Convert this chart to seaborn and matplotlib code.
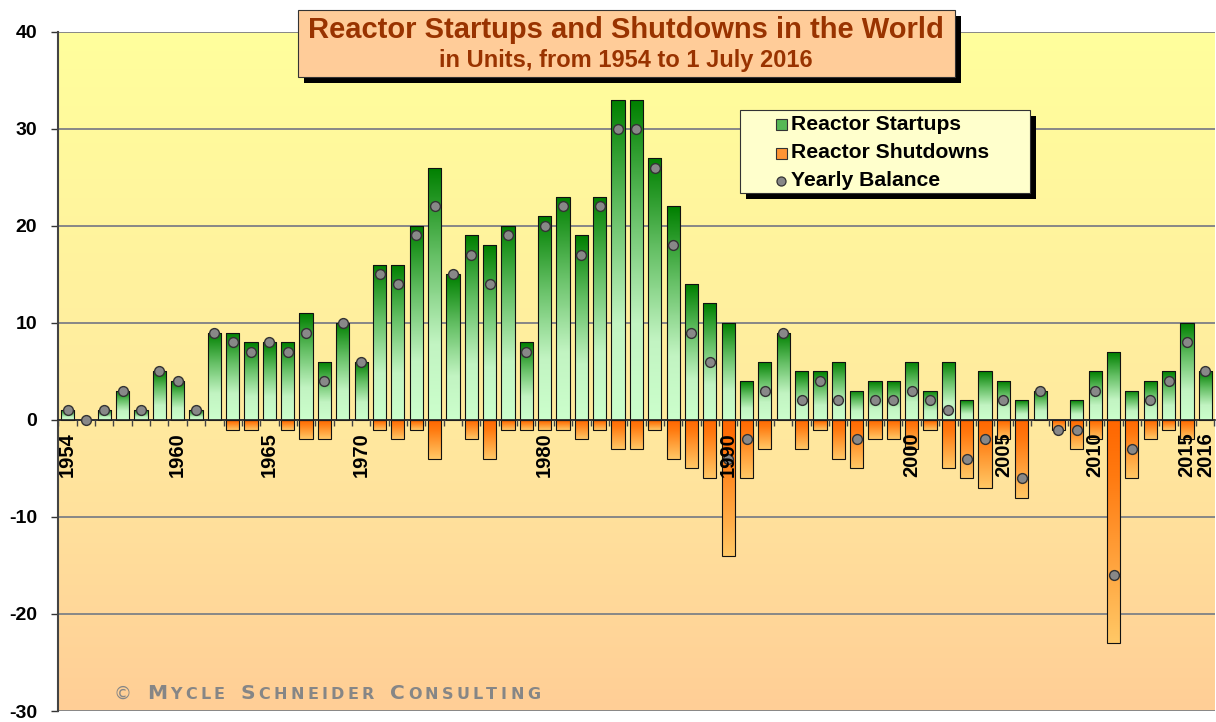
import numpy as np
import pandas as pd
import matplotlib
matplotlib.use("Agg")
import matplotlib.pyplot as plt
import seaborn as sns
from matplotlib.colors import LinearSegmentedColormap
from matplotlib.patches import Rectangle
from matplotlib.lines import Line2D
from matplotlib.ticker import FixedLocator, NullFormatter

# ---------------- data ----------------
years = list(range(1954, 2017))
startups = [1, 0, 1, 3, 1, 5, 4, 1, 9, 9, 8, 8, 8, 11, 6, 10,      # 1954-1969
            6, 16, 16, 20, 26, 15, 19, 18, 20, 8,                  # 1970-1979
            21, 23, 19, 23, 33, 33, 27, 22, 14, 12,                # 1980-1989
            10, 4, 6, 9, 5, 5, 6, 3, 4, 4,                         # 1990-1999
            6, 3, 6, 2, 5, 4, 2, 3, 0, 2,                          # 2000-2009
            5, 7, 3, 4, 5, 10, 5]                                  # 2010-2016
shutdowns = [0, 0, 0, 0, 0, 0, 0, 0, 0, 1, 1, 0, 1, 2, 2, 0,
             0, 1, 2, 1, 4, 0, 2, 4, 1, 1,
             1, 1, 2, 1, 3, 3, 1, 4, 5, 6,
             14, 6, 3, 0, 3, 1, 4, 5, 2, 2,
             3, 1, 5, 6, 7, 2, 8, 0, 1, 3,
             2, 23, 6, 2, 1, 2, 0]
balance = [1, 0, 1, 3, 1, 5, 4, 1, 9, 8, 7, 8, 7, 9, 4, 10,
           6, 15, 14, 19, 22, 15, 17, 14, 19, 7,
           20, 22, 17, 22, 30, 30, 26, 18, 9, 6,
           -4, -2, 3, 9, 2, 4, 2, -2, 2, 2,
           3, 2, 1, -4, -2, 2, -6, 3, -1, -1,
           3, -16, -3, 2, 4, 8, 5]
label_years = [1954, 1960, 1965, 1970, 1980, 1990,
               2000, 2005, 2010, 2015, 2016]
label_texts = ["1954", "1960", "1965", "1970", "1980", "1990",
               "2000", "2005", "2010", "2015", "2016"]
y_ticks = [-30, -20, -10, 0, 10, 20, 30, 40]
title = "Reactor Startups and Shutdowns in the World"
subtitle = "in Units, from 1954 to 1 July 2016"
legend_labels = ["Reactor Startups", "Reactor Shutdowns", "Yearly Balance"]

df = pd.DataFrame({"year": years, "startups": startups,
                   "shutdowns": [-v for v in shutdowns], "balance": balance})

# ---------------- figure ----------------
sns.set_theme(style="white")
plt.rcParams["font.family"] = ["Liberation Sans", "DejaVu Sans"]
plt.rcParams["font.weight"] = "bold"

W, H = 1216, 722
fig = plt.figure(figsize=(W / 100, H / 100), dpi=100, facecolor="white")
ax = fig.add_axes([58 / W, (H - 711) / H, (1215 - 58) / W, (711 - 31.7) / H])


def fx(px):
    return px / W


def fy(py):
    return 1 - py / H


# background gradient
bg = LinearSegmentedColormap.from_list(
    "bg", [(0, "#FFCE96"), (0.43, "#FFEA9F"), (1, "#FFFF9C")])
ax.imshow(np.linspace(0, 1, 256).reshape(-1, 1), cmap=bg, origin="lower",
          extent=[0, 1, 0, 1], transform=ax.transAxes, aspect="auto",
          zorder=0, interpolation="bicubic")

# bars
sns.barplot(data=df, x="year", y="startups", native_scale=True, orient="x",
            width=0.72, color="#66CC66", edgecolor="#111111", linewidth=0.8,
            errorbar=None, ax=ax, zorder=3)
sns.barplot(data=df, x="year", y="shutdowns", native_scale=True, orient="x",
            width=0.72, color="#FF9933", edgecolor="#111111", linewidth=0.8,
            errorbar=None, ax=ax, zorder=3)

green = LinearSegmentedColormap.from_list(
    "g", [(0, "#CCFFCC"), (0.3, "#C2F4C2"), (0.65, "#66C066"), (1, "#008000")])
orange = LinearSegmentedColormap.from_list(
    "o", [(0, "#FFC866"), (0.75, "#FF7A10"), (1, "#FF6600")])
grad = np.linspace(0, 1, 128).reshape(-1, 1)
for p in list(ax.patches):
    if not isinstance(p, Rectangle):
        continue
    x0, w, h = p.get_x(), p.get_width(), p.get_height()
    if h == 0:
        p.set_visible(False)
        continue
    if h > 0:
        im = ax.imshow(grad, cmap=green, origin="lower", aspect="auto",
                       extent=[x0, x0 + w, 0, h], zorder=2.8,
                       interpolation="bilinear")
    else:
        im = ax.imshow(grad, cmap=orange, origin="lower", aspect="auto",
                       extent=[x0, x0 + w, h, 0], zorder=2.8,
                       interpolation="bilinear")
    im.set_clip_path(p)
    p.set_facecolor("none")
    p.set_zorder(3)

# yearly balance dots
sns.scatterplot(data=df, x="year", y="balance", s=50, color="#888888",
                edgecolor="#333333", linewidth=1.0, zorder=5, ax=ax,
                legend=False)

# axes styling
ax.set_xlim(1953.48, 2016.53)
ax.set_ylim(-30, 40)
ax.set_xlabel("")
ax.set_ylabel("")
ax.set_yticks(y_ticks)
ax.set_yticklabels([str(v) for v in y_ticks], fontweight="bold", fontsize=14,
                   color="black")
ax.yaxis.grid(True, color="#878787", linewidth=1.4)
ax.xaxis.grid(False)
ax.set_axisbelow(False)
ax.yaxis.set_zorder(0.5)
ax.xaxis.set_zorder(6)

ax.xaxis.set_major_locator(FixedLocator(np.arange(1953.5, 2017, 1.0)))
ax.xaxis.set_major_formatter(NullFormatter())
ax.set_xticks(label_years, minor=True)
ax.set_xticklabels(label_texts, minor=True, fontweight="bold")
ax.tick_params(axis="x", which="major", direction="out", length=4.5,
               width=1, color="#444444", bottom=True)
ax.tick_params(axis="x", which="minor", length=0, pad=9, bottom=True,
               labelrotation=90, labelsize=14.5, labelcolor="black")
ax.tick_params(axis="y", which="major", direction="out", length=5, width=1,
               color="#333333", left=True, pad=10)

for s in ["top", "right"]:
    ax.spines[s].set_visible(False)
ax.spines["left"].set_color("#444444")
ax.spines["left"].set_linewidth(1.5)
ax.spines["bottom"].set_position(("data", 0))
ax.spines["bottom"].set_color("#222222")
ax.spines["bottom"].set_linewidth(1.2)
ax.spines["bottom"].set_zorder(3.5)


# ---------------- title box ----------------
def rect(x0, y0, x1, y1, **kw):
    r = Rectangle((fx(x0), fy(y1)), fx(x1) - fx(x0), fy(y0) - fy(y1),
                  transform=fig.transFigure, **kw)
    fig.patches.append(r)
    return r


rect(304, 16, 961, 83, facecolor="black", edgecolor="none", zorder=10)
rect(298, 10, 955, 77, facecolor="#FFCC99", edgecolor="#333333",
     linewidth=0.8, zorder=11)
fig.text(fx(626), fy(30), title, ha="center", va="center", fontsize=21,
         fontweight="bold", color="#993300", zorder=12)
fig.text(fx(626), fy(61), subtitle, ha="center", va="center", fontsize=17,
         fontweight="bold", color="#993300", zorder=12)

# ---------------- legend box ----------------
rect(746, 116, 1036, 199, facecolor="black", edgecolor="none", zorder=10)
rect(740, 110, 1030, 193, facecolor="#FFFFCC", edgecolor="#333333",
     linewidth=0.8, zorder=11)
rect(776, 119, 787, 130, facecolor="#55B855", edgecolor="#333333",
     linewidth=0.8, zorder=12)
rect(776, 148, 787, 159, facecolor="#FF9533", edgecolor="#333333",
     linewidth=0.8, zorder=12)
fig.add_artist(Line2D([fx(781.5)], [fy(181)], marker="o", markersize=6.5,
                      markerfacecolor="#888888", markeredgecolor="#333333",
                      markeredgewidth=0.9, linestyle="none",
                      transform=fig.transFigure, zorder=12))
for lab, yy in zip(legend_labels, [124.5, 153, 181]):
    fig.text(fx(791), fy(yy), lab, ha="left", va="center", fontsize=15.2,
             fontweight="bold", color="black", zorder=12)

# ---------------- copyright (small caps) ----------------
renderer = fig.canvas.get_renderer()
parts = [("\u00a9", 13, "normal"), (" ", 14, "bold"), ("M", 14.5, "bold"),
         ("YCLE", 11.5, "bold"), (" ", 14, "bold"), ("S", 14.5, "bold"),
         ("CHNEIDER", 11.5, "bold"), (" ", 14, "bold"), ("C", 14.5, "bold"),
         ("ONSULTING", 11.5, "bold")]
chars = []
for txt, size, weight in parts:
    for ch in txt:
        chars.append((ch, size, weight))
objs = []
widths = []
for ch, size, weight in chars:
    t = fig.text(0, fy(699), ch if ch != " " else "", fontsize=size,
                 fontweight=weight, color="#868686", ha="left", va="baseline",
                 family=["DejaVu Sans"], zorder=12)
    objs.append(t)
    if ch == " ":
        widths.append(9.0)
    else:
        widths.append(t.get_window_extent(renderer).width)
x_start, x_end = 113, 540
track = (x_end - x_start - sum(widths)) / (len(chars) - 1)
x = x_start
for t, w in zip(objs, widths):
    t.set_x(fx(x))
    x += w + track

fig.savefig("out.png", dpi=100, facecolor="white")
